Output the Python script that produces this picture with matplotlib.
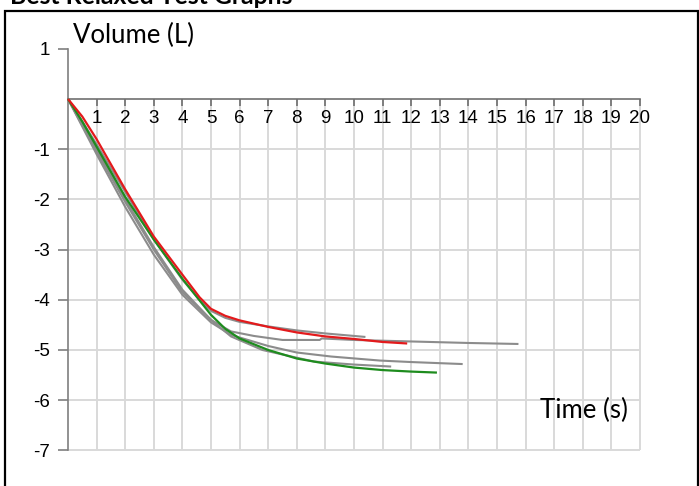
import matplotlib
matplotlib.use("Agg")
import matplotlib.pyplot as plt
from matplotlib.patches import Rectangle

# ---- data ----
red_t = [0, 0.5, 1, 2, 3, 4, 4.6, 5, 5.5, 6, 7, 8, 9, 10, 11, 11.86]
red_v = [0, -0.35, -0.8, -1.8, -2.74, -3.5, -3.95, -4.18, -4.32, -4.41, -4.54, -4.65, -4.73, -4.78, -4.84, -4.87]

green_t = [0, 0.5, 1, 2, 3, 4, 5, 5.5, 6, 7, 8, 9, 10, 11, 12, 12.9]
green_v = [0, -0.45, -0.95, -1.95, -2.8, -3.58, -4.3, -4.58, -4.77, -5.0, -5.17, -5.27, -5.35, -5.40, -5.43, -5.45]

greyA_t = [0, 1, 2, 3, 4, 4.6, 5, 5.5, 6, 7, 8, 9, 10, 10.4]
greyA_v = [0, -0.9, -1.85, -2.8, -3.6, -4.0, -4.22, -4.36, -4.44, -4.53, -4.61, -4.67, -4.72, -4.74]

greyB_t = [0, 1, 2, 3, 4, 5, 5.7, 6.5, 7.5, 8.8, 8.87, 10, 12, 14, 15.75]
greyB_v = [0, -1.05, -2.05, -3.0, -3.85, -4.4, -4.63, -4.72, -4.80, -4.80, -4.77, -4.80, -4.83, -4.86, -4.88]

greyC_t = [0, 1, 2, 3, 4, 5, 5.7, 7, 8, 9.2, 10.9, 12, 13.8]
greyC_v = [0, -1.1, -2.15, -3.1, -3.9, -4.45, -4.70, -4.92, -5.05, -5.13, -5.21, -5.24, -5.28]

greyD_t = [0, 1, 2, 3, 4, 5, 5.7, 6.8, 8.6, 10, 11.3]
greyD_v = [0, -1.0, -2.0, -2.95, -3.8, -4.4, -4.73, -5.0, -5.23, -5.29, -5.33]

x_ticks = list(range(1, 21))
y_ticks = [1, -1, -2, -3, -4, -5, -6, -7]

W, H = 699, 486
fig = plt.figure(figsize=(W / 100, H / 100), dpi=100)
ax = fig.add_axes([0, 0, 1, 1])

# pixel mapping: x=0 -> 68px, 28.6 px/unit ; y=0 -> 99px, 50.2 px/unit
px_x, x0 = 28.6, 68
px_y, y0 = 50.2, 99
ax.set_xlim(-x0 / px_x, (W - x0) / px_x)
ax.set_ylim(-(H - y0) / px_y, y0 / px_y)

grid_c = "#d9d9d9"
ax.vlines(x_ticks, -7, 0, colors=grid_c, lw=1.4, zorder=1)
ax.hlines([-1, -2, -3, -4, -5, -6, -7], 0, 20, colors=grid_c, lw=1.4, zorder=1)

grey = "#8c8c8c"
for t, v in [(greyA_t, greyA_v), (greyB_t, greyB_v), (greyC_t, greyC_v), (greyD_t, greyD_v)]:
    ax.plot(t, v, color=grey, lw=1.5, zorder=3, solid_capstyle="butt")
ax.plot(green_t, green_v, color="#1e8c1e", lw=1.6, zorder=4, solid_capstyle="butt")
ax.plot(red_t, red_v, color="#e31a1c", lw=1.6, zorder=5, solid_capstyle="butt")

# axes
for s in ["top", "right"]:
    ax.spines[s].set_visible(False)
ax.spines["left"].set_position(("data", 0))
ax.spines["bottom"].set_position(("data", 0))
ax.spines["left"].set_bounds(-7, 1)
ax.spines["bottom"].set_bounds(0, 20)
ax.spines["left"].set_color("#7f7f7f")
ax.spines["bottom"].set_color("#6f6f6f")
ax.spines["left"].set_linewidth(1.2)
ax.spines["bottom"].set_linewidth(1.2)
ax.set_xticks(x_ticks)
ax.set_xticklabels([str(t) for t in x_ticks])
ax.set_yticks(y_ticks)
ax.set_yticklabels([str(t) for t in y_ticks])
ax.tick_params(axis="x", direction="out", length=5, width=1.2, color="#6f6f6f",
               pad=3, labelsize=13.5, labelcolor="black")
ax.tick_params(axis="y", direction="out", length=7, width=1.2, color="#7f7f7f",
               pad=6, labelsize=13.5, labelcolor="black")
for lab in ax.get_xticklabels() + ax.get_yticklabels():
    lab.set_fontfamily(["Liberation Sans", "DejaVu Sans"])
ax.patch.set_visible(False)

lab_font = ["Lato", "DejaVu Sans"]
ax.text(0.17, 1.27, "Volume (L)", fontsize=18.5, family=lab_font, va="center", ha="left")
ax.text(16.5, -6.2, "Time (s)", fontsize=18.5, family=lab_font, va="center", ha="left")

# frame and cut-off title
fig.patches.append(Rectangle((5 / W, -0.05), (698 - 5) / W, 1.05 - 11 / H,
                             transform=fig.transFigure, fill=False,
                             edgecolor="black", lw=1.6))
fig.text(10 / W, 1 - 4 / H, "Best Relaxed Test Graphs", fontsize=17.8,
         fontweight="bold", family=lab_font, va="baseline", ha="left")

fig.savefig("out.png", dpi=100)
